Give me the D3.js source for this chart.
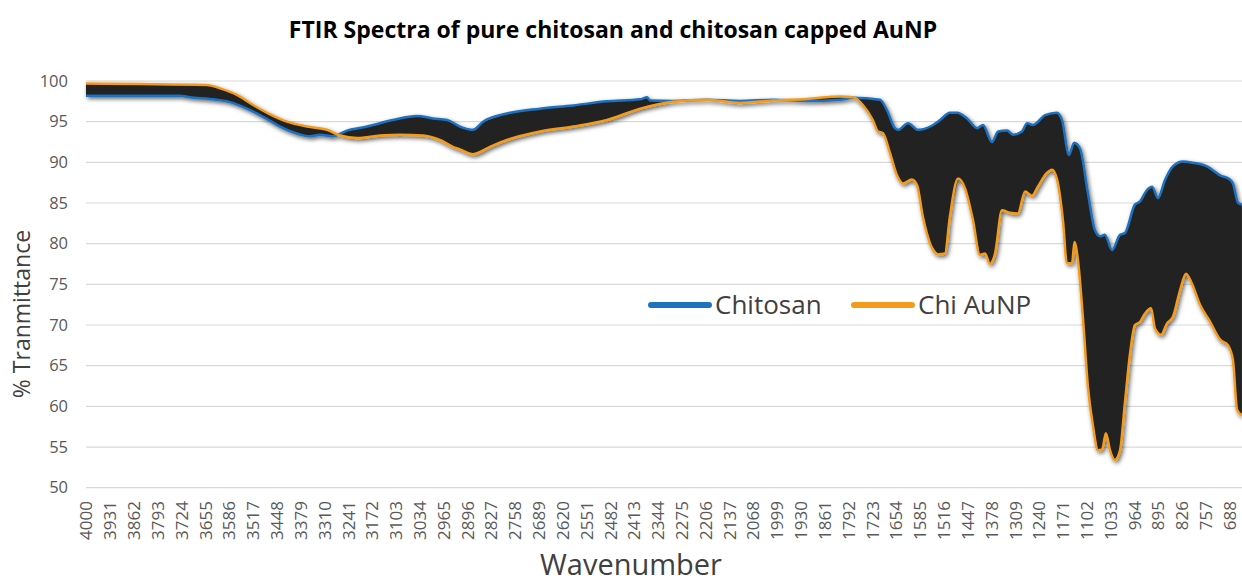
<!DOCTYPE html>
<html><head><meta charset="utf-8">
<script src="https://cdn.jsdelivr.net/npm/d3@7/dist/d3.min.js"></script>
<style>body{margin:0;background:#fff}svg{display:block}text{font-family:"Open Sans",sans-serif}</style>
</head><body><div id="chart"></div>
<script>
const tickLabels = [4000,3931,3862,3793,3724,3655,3586,3517,3448,3379,3310,3241,3172,3103,3034,2965,2896,2827,2758,2689,2620,2551,2482,2413,2344,2275,2206,2137,2068,1999,1930,1861,1792,1723,1654,1585,1516,1447,1378,1309,1240,1171,1102,1033,964,895,826,757,688];
const yTicks = [50,55,60,65,70,75,80,85,90,95,100];

const chitosanWave = [4000,3728,3699,3641,3583,3534,3487,3438,3400,3351,3322,3285,3244,3186,3111,3041,2995,2954,2917,2879,2850,2781,2685,2589,2491,2395,2375,2366,2300,2201,2106,2010,1912,1816,1778,1700,1680,1657,1648,1619,1590,1550,1526,1498,1477,1448,1419,1402,1376,1358,1332,1315,1289,1274,1257,1222,1188,1173,1153,1138,1121,1098,1078,1063,1049,1028,1005,991,962,947,927,912,895,875,852,823,794,753,715,687,678,663,652];
const chitosanT = [98.2,98.2,98.0,97.8,97.4,96.6,95.6,94.4,93.7,93.2,93.4,93.2,93.9,94.4,95.2,95.7,95.4,95.2,94.4,94.0,95.0,96.0,96.6,97.0,97.5,97.75,98.0,97.6,97.55,97.7,97.55,97.7,97.55,97.7,97.95,97.7,96.4,94.2,94.0,94.8,94.0,94.5,95.2,96.1,96.1,95.4,94.2,94.6,92.5,93.8,93.9,93.4,93.8,94.8,94.6,95.8,96.1,95.2,90.9,92.4,91.7,86.2,81.7,80.9,81.1,79.2,81.1,81.3,84.8,85.2,86.6,87.0,85.6,87.8,89.5,90.1,89.95,89.5,88.4,87.9,87.4,85.0,84.8];

const auWave = [4000,3650,3612,3563,3516,3467,3418,3360,3302,3264,3215,3148,3091,3024,2975,2937,2917,2879,2830,2781,2685,2589,2491,2395,2346,2300,2201,2106,2010,1912,1816,1778,1750,1721,1706,1692,1671,1651,1634,1608,1593,1576,1555,1532,1512,1498,1474,1454,1431,1411,1396,1382,1367,1347,1324,1301,1280,1260,1243,1217,1202,1188,1170,1159,1144,1137,1127,1112,1098,1083,1069,1057,1046,1034,1020,1005,991,976,962,947,933,915,904,886,869,852,831,814,797,773,744,715,692,678,666,652];
const auT = [99.7,99.5,99.1,98.3,97.05,95.9,95.0,94.4,94.0,93.3,93.0,93.3,93.4,93.3,92.75,91.9,91.6,91.0,91.9,92.75,93.8,94.4,95.2,96.6,97.1,97.45,97.7,97.3,97.6,97.8,98.1,98.0,97.05,95.2,93.8,93.6,91.1,88.4,87.4,87.9,87.2,83.3,80.0,78.7,78.8,83.3,88.0,86.8,82.9,78.6,78.8,77.5,78.8,84.1,83.8,83.7,86.4,85.9,87.0,88.7,89.1,88.0,82.7,77.6,77.6,80.2,78.0,70.6,62.4,57.5,54.6,54.7,56.7,54.6,53.4,54.6,60.4,66.5,70.0,70.4,71.4,72.05,69.6,68.8,70.2,71.0,74.3,76.3,75.1,72.45,70.4,68.2,67.5,65.7,59.6,58.9];

const W = 1242, H = 583;
const svg = d3.select("#chart").append("svg").attr("width", W).attr("height", H);
const defs = svg.append("defs");
const f = defs.append("filter").attr("id","sh").attr("x","-5%").attr("y","-5%").attr("width","110%").attr("height","120%");
f.append("feDropShadow").attr("dx",1.5).attr("dy",2).attr("stdDeviation",2.2).attr("flood-color","#000").attr("flood-opacity",0.6);

const x = d3.scaleLinear().domain([4000, 650]).range([86, 1242.6]);
const y = d3.scaleLinear().domain([50, 100]).range([487.7, 81]);

// gridlines
svg.append("g").selectAll("line").data(yTicks).join("line")
  .attr("x1", 86).attr("x2", W).attr("y1", d => y(d)).attr("y2", d => y(d))
  .attr("stroke", "#d9d9d9").attr("stroke-width", 1.2);

// y axis labels
const ya = svg.append("g").attr("transform", "translate(68,0)")
  .call(d3.axisLeft(y).tickValues(yTicks).tickSize(0).tickPadding(0));
ya.select(".domain").remove();
ya.selectAll("text").attr("font-size", 16.5).attr("fill", "#595959").attr("font-family", "Open Sans");

// x axis labels
const xa = svg.append("g").attr("transform", "translate(0,499)")
  .call(d3.axisBottom(x).tickValues(tickLabels).tickFormat(d => d).tickSize(0).tickPadding(0));
xa.select(".domain").remove();
xa.selectAll(".tick text").attr("font-size", 17).attr("fill", "#595959").attr("font-family", "Open Sans")
  .attr("transform", "rotate(-90)").attr("text-anchor", "end").attr("dy", "0.35em").attr("x", -2).attr("y", 0);

const blue = chitosanWave.map((w,i)=>[w, chitosanT[i]]);
const orange = auWave.map((w,i)=>[w, auT[i]]);
const line = d3.line().x(d => x(d[0])).y(d => y(d[1])).curve(d3.curveMonotoneX);

const plot = svg.append("g").attr("filter", "url(#sh)");
// dark band between the spectra
const poly = blue.concat(orange.slice().reverse());
plot.append("path").attr("d", d3.line().x(d=>x(d[0])).y(d=>y(d[1])).curve(d3.curveLinearClosed)(poly))
  .attr("fill", "#212222");
plot.append("path").attr("d", line(blue)).attr("fill","none").attr("stroke","#1f72c0").attr("stroke-width",2.5);
plot.append("path").attr("d", line(orange)).attr("fill","none").attr("stroke","#f59b1c").attr("stroke-width",2.5);

// legend
const legend = [["Chitosan","#1f72c0",648],["Chi AuNP","#f59b1c",851]];
legend.forEach(([name,col,lx])=>{
  svg.append("line").attr("x1",lx+3).attr("x2",lx+61).attr("y1",305).attr("y2",305)
    .attr("stroke",col).attr("stroke-width",6).attr("stroke-linecap","round");
  svg.append("text").attr("x",lx+67).attr("y",314).attr("font-size",26).attr("fill","#404040").text(name);
});

// titles
svg.append("text").attr("x",613).attr("y",38).attr("text-anchor","middle").attr("font-size",23)
  .attr("font-weight","bold").attr("fill","#000").text("FTIR Spectra of pure chitosan and chitosan capped AuNP");
svg.append("text").attr("transform","translate(30,314) rotate(-90)").attr("text-anchor","middle")
  .attr("font-size",23).attr("fill","#404040").text("% Tranmittance");
svg.append("text").attr("x",631).attr("y",575).attr("text-anchor","middle").attr("font-size",29)
  .attr("fill","#404040").text("Wavenumber");
</script></body></html>
